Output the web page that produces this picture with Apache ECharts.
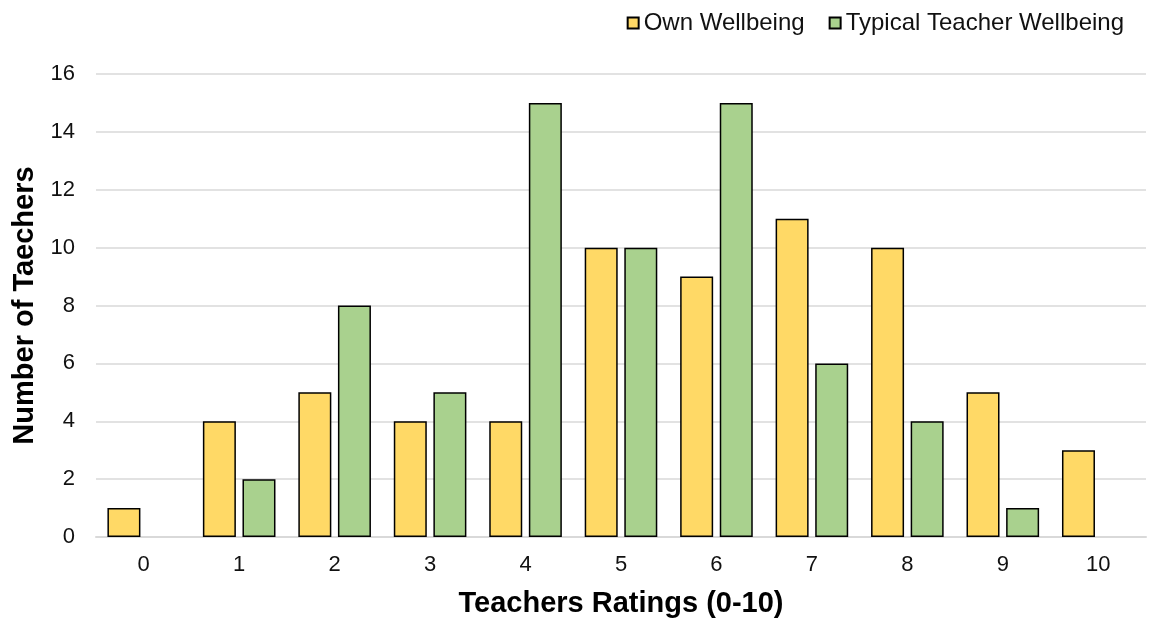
<!DOCTYPE html>
<html>
<head>
<meta charset="utf-8">
<script src="https://cdn.jsdelivr.net/npm/echarts@6/dist/echarts.min.js"></script>
<style>
html, body { margin: 0; padding: 0; background: #fff; }
#chart { width: 1156px; height: 621px; }
</style>
</head>
<body>
<div id="chart"></div>
<script>
// ratings 0-10 and how many teachers gave each
const categories = ["0", "1", "2", "3", "4", "5", "6", "7", "8", "9", "10"];
const ownWellbeing = [1, 4, 5, 4, 4, 10, 9, 11, 10, 5, 3];
const typicalWellbeing = [0, 2, 8, 5, 15, 10, 15, 6, 4, 1, 0];
const yTicks = [0, 2, 4, 6, 8, 10, 12, 14, 16];

const font = "Liberation Sans, Arial, sans-serif";

let chart = echarts.init(document.getElementById("chart"));
chart.setOption({
    animation: false,
    textStyle: { fontFamily: font },
    legend: {
        top: 6,
        right: 27,
        itemWidth: 11,
        itemHeight: 11,
        itemGap: 24,
        icon: "rect",
        textStyle: { fontSize: 24, color: "#111", fontFamily: font },
        data: ["Own Wellbeing", "Typical Teacher Wellbeing"],
    },
    grid: {
        left: 96,
        right: 10,
        top: 74,
        bottom: 84,
        outerBoundsMode: "none",
        containLabel: false,
    },
    xAxis: {
        type: "category",
        data: categories,
        name: "Teachers Ratings (0-10)",
        nameLocation: "middle",
        nameGap: 52,
        nameTextStyle: { fontSize: 29, fontWeight: "bold", color: "#000", fontFamily: font },
        axisLine: { show: true, lineStyle: { color: "#d9d9d9", width: 2 } },
        axisTick: { show: false },
        axisLabel: { fontSize: 22, color: "#111", margin: 17, fontFamily: font },
    },
    yAxis: {
        type: "value",
        min: yTicks[0],
        max: yTicks[yTicks.length - 1],
        interval: 2,
        name: "Number of Taechers",
        nameLocation: "middle",
        nameGap: 56,
        nameTextStyle: { fontSize: 29, fontWeight: "bold", color: "#000", fontFamily: font },
        axisLine: { show: false },
        axisTick: { show: false },
        axisLabel: { fontSize: 22, color: "#111", margin: 21, fontFamily: font },
        splitLine: { lineStyle: { color: "#d9d9d9", width: 1.5 } },
    },
    series: [
        {
            name: "Own Wellbeing",
            type: "bar",
            data: ownWellbeing,
            barWidth: 33,
            barGap: "20%",
            itemStyle: { color: "#ffd966", borderColor: "#000", borderWidth: 1.5 },
        },
        {
            name: "Typical Teacher Wellbeing",
            type: "bar",
            data: typicalWellbeing.map(v => v === 0 ? null : v),
            barWidth: 33,
            itemStyle: { color: "#a9d18e", borderColor: "#000", borderWidth: 1.5 },
        },
    ],
});
</script>
</body>
</html>
